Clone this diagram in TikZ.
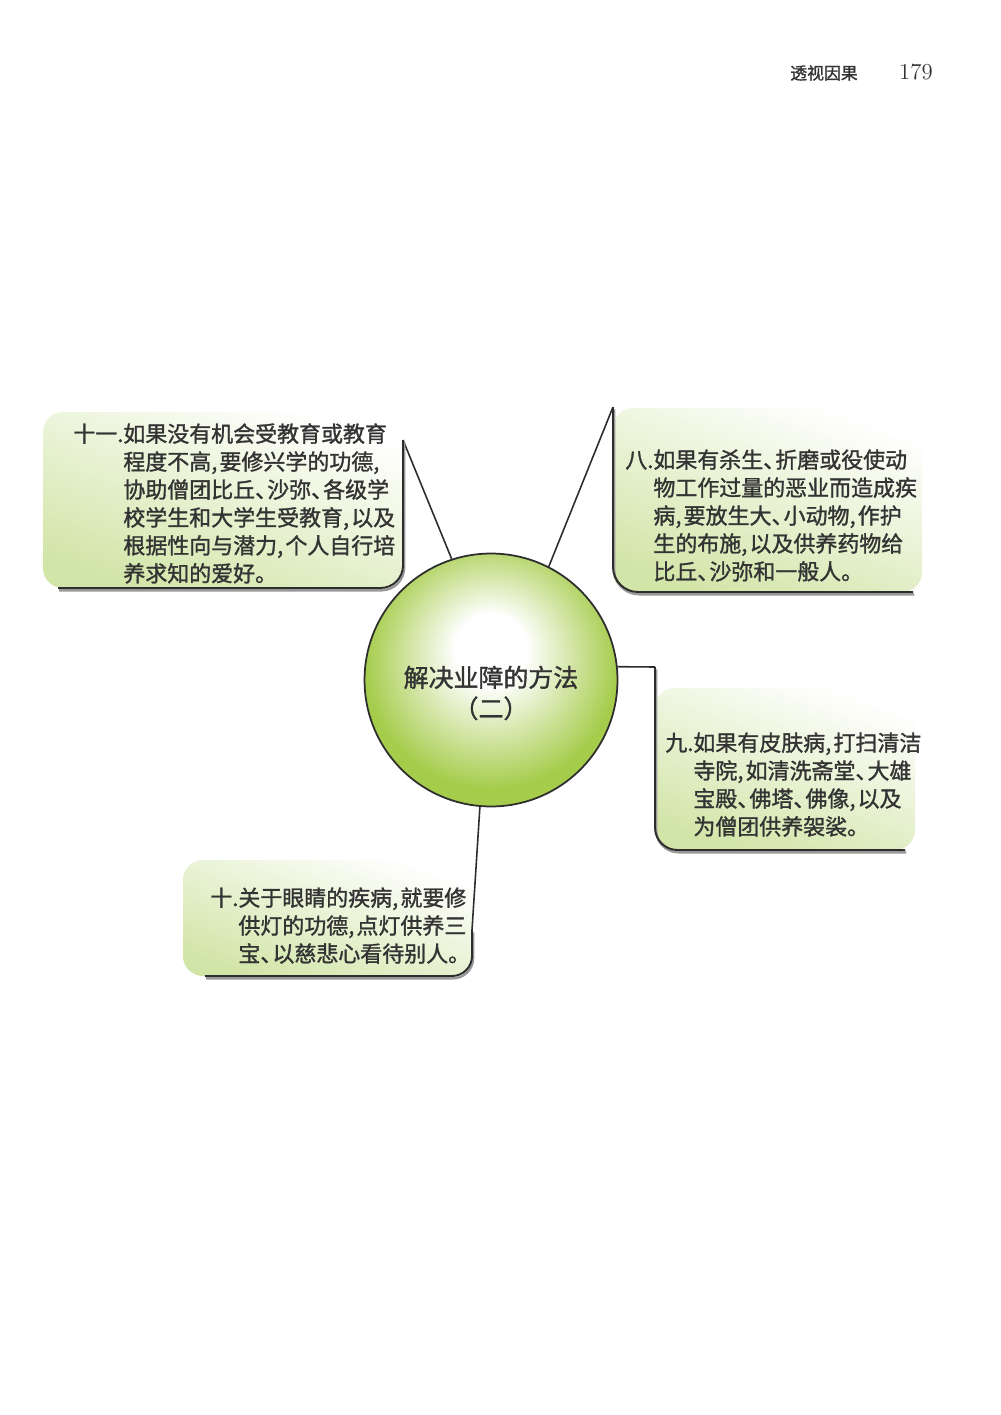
\documentclass[tikz,border=0pt]{standalone}
\usepackage{fontspec}
\newfontfamily\cjk{Noto Sans CJK SC}[FakeBold=1.3]
\definecolor{boxgreen}{RGB}{210,229,168}
\definecolor{ballgreen}{RGB}{166,204,76}
\definecolor{inkline}{RGB}{45,45,45}
\pgfdeclareradialshading{ballshade}{\pgfpoint{0bp}{7bp}}{color(0bp)=(white); color(7bp)=(white); color(25bp)=(ballgreen); color(50bp)=(ballgreen)}
\newcommand\cma{,\hspace{0.1em}}
\newcommand\dun{、\kern-0.45em}

\begin{document}
\begin{tikzpicture}[x=0.02cm,y=-0.02cm,
  boxfill/.style={top color=white,bottom color=boxgreen,shading angle=-20,rounded corners=0.4cm},
  boxedge/.style={draw=inkline,line width=1.1pt},
  boxshadow/.style={draw=black!40,line width=1.4pt,transform canvas={xshift=0.6pt,yshift=-1.3pt}},
  link/.style={draw=inkline,line width=0.9pt},
  hub/.style={circle,draw=inkline,line width=1pt,shade,shading=ballshade,minimum size=5.06cm,inner sep=0pt},
  itemtext/.style={font=\cjk\fontsize{12.5pt}{15.9pt}\selectfont,inner sep=0pt,anchor=base west,text=black!80}]
  \fill[white] (0,0) rectangle (1000,1415);
  \useasboundingbox (0,0) rectangle (1000,1415);
  % page header
  \node[font=\cjk\fontsize{9.6pt}{12pt}\selectfont,text=black!80] (pagehead) at (824,73) {透视因果};
  \node[font=\fontsize{13pt}{15pt}\selectfont,text=black!80] (pagenum) at (916,72) {179};
  % box backgrounds
  \shade[boxfill] (43,412) rectangle (403,588);
  \shade[boxfill] (613,408) rectangle (922,592);
  \shade[boxfill] (655,688) rectangle (915,850);
  \shade[boxfill] (183,860) rectangle (472,976);
  % centre
  \node[hub] (hub) at (491,680) {};
  \node[font=\cjk\fontsize{14.2pt}{17.6pt}\selectfont,align=center,text=black!80] (hubtext) at (491,693) {解决业障的方法\\（二）};
  % corner points
  \coordinate (b11tip) at (403,440);
  \coordinate (b8tip) at (613,407);
  \coordinate (b9tip) at (655,667);
  \coordinate (b10tip) at (472,930);
  % links
  \draw[link] (b11tip) -- (hub.108);
  \draw[link] (b8tip) -- (hub.63);
  \draw[link] (hub.6) -- (b9tip);
  \draw[link] (hub.-95) -- (b10tip);
  % box edges
  \draw[boxshadow] (b11tip) [rounded corners=0.45cm] -- (403,588) -- (58,588);
  \draw[boxedge] (b11tip) [rounded corners=0.45cm] -- (403,588) -- (58,588);
  \draw[boxshadow] (b8tip) [rounded corners=0.5cm] -- (613,592) -- (913,592);
  \draw[boxedge] (b8tip) [rounded corners=0.5cm] -- (613,592) -- (913,592);
  \draw[boxshadow] (b9tip) [rounded corners=0.45cm] -- (655,850) -- (905,850);
  \draw[boxedge] (b9tip) [rounded corners=0.45cm] -- (655,850) -- (905,850);
  \draw[boxshadow] (b10tip) [rounded corners=0.4cm] -- (472,976) -- (205,976);
  \draw[boxedge] (b10tip) [rounded corners=0.4cm] -- (472,976) -- (205,976);
  % texts
  \node[itemtext] (b11text) at (73,442) {\begin{tabular}[t]{@{}l@{}l@{}}十一. & 如果没有机会受教育或教育\\
    & 程度不高\cma 要修兴学的功德\cma\\
    & 协助僧团比丘\dun 沙弥\dun 各级学\\
    & 校学生和大学生受教育\cma 以及\\
    & 根据性向与潜力\cma 个人自行培\\
    & 养求知的爱好。\end{tabular}};
  \node[itemtext] (b8text) at (625,468) {\begin{tabular}[t]{@{}l@{}l@{}}八. & 如果有杀生\dun 折磨或役使动\\
    & 物工作过量的恶业而造成疾\\
    & 病\cma 要放生大\dun 小动物\cma 作护\\
    & 生的布施\cma 以及供养药物给\\
    & 比丘\dun 沙弥和一般人。\end{tabular}};
  \node[itemtext] (b9text) at (665,751) {\begin{tabular}[t]{@{}l@{}l@{}}九. & 如果有皮肤病\cma 打扫清洁\\
    & 寺院\cma 如清洗斋堂\dun 大雄\\
    & 宝殿\dun 佛塔\dun 佛像\cma 以及\\
    & 为僧团供养袈裟。\end{tabular}};
  \node[itemtext] (b10text) at (210,906) {\begin{tabular}[t]{@{}l@{}l@{}}十. & 关于眼睛的疾病\cma 就要修\\
    & 供灯的功德\cma 点灯供养三\\
    & 宝\dun 以慈悲心看待别人。\end{tabular}};
\end{tikzpicture}
\end{document}
